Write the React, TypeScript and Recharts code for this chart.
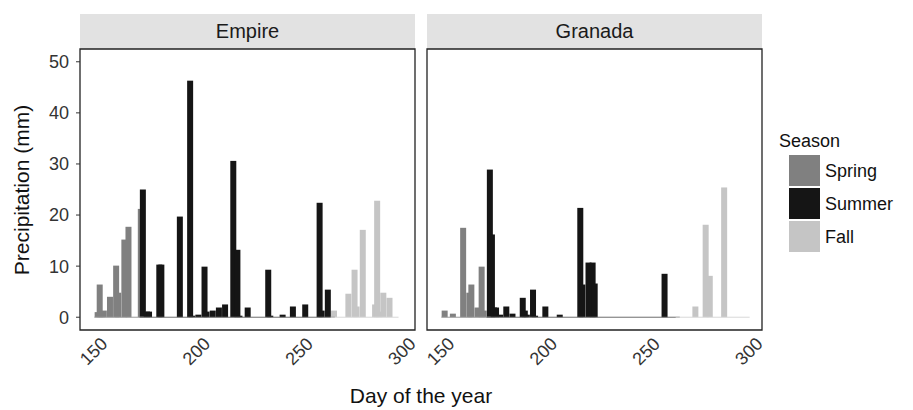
import React from "react";
import { ComposedChart, Bar, XAxis, YAxis, ReferenceArea, ReferenceLine } from "recharts";

const FONT = '"Liberation Sans", Arial, Helvetica, sans-serif';

const SEASON_FILL: Record<string, string> = { Spring: "#808080", Summer: "#151515", Fall: "#c5c5c5" };
const BASE_STROKE: Record<string, string> = { Spring: "#9a9a9a", Summer: "#6c6c6c", Fall: "#d8d8d8" };
const SEASONS = ["Spring", "Summer", "Fall"];

const X_TICKS = [150, 200, 250, 300];
const Y_TICKS = [0, 10, 20, 30, 40, 50];
const X_DOMAIN = [140.5, 303.5];
const Y_DOMAIN = [-2.5, 52.5];

// Empire
const empireSpringDays = [149, 150, 151, 152, 155, 158, 159, 162, 164, 170];
const empireSpringMm = [1.0, 6.4, 1.1, 1.3, 4.0, 10.1, 4.8, 15.2, 17.7, 21.2];
const empireSummerDays = [171, 173, 174, 179, 180, 189, 194, 195, 198, 201, 202, 205, 208, 211, 215, 217, 218, 222, 232, 233, 239, 244, 250, 257, 258, 261];
const empireSummerMm = [25.0, 1.1, 1.1, 10.3, 10.3, 19.7, 46.3, 0.3, 0.5, 9.9, 1.1, 1.3, 1.9, 2.5, 30.6, 13.2, 0.3, 1.9, 9.3, 0.3, 0.5, 2.1, 2.5, 22.4, 1.3, 5.4];
const empireFallDays = [264, 271, 274, 275, 278, 284, 285, 286, 288, 291];
const empireFallMm = [1.3, 4.6, 9.3, 2.1, 17.1, 2.5, 22.8, 1.1, 4.8, 3.8];
const empireSpans = [[149, 170], [171, 263], [264, 294]];

// Granada
const granadaSpringDays = [149, 153, 158, 161, 162, 165, 167, 168];
const granadaSpringMm = [1.3, 0.7, 17.5, 4.8, 6.4, 1.9, 9.9, 1.3];
const granadaSummerDays = [171, 172, 173, 174, 176, 179, 182, 187, 188, 189, 192, 193, 198, 205, 215, 216, 219, 221, 222, 256];
const granadaSummerMm = [28.9, 16.2, 1.9, 1.9, 0.5, 2.1, 0.7, 3.8, 1.3, 0.5, 5.4, 0.3, 2.1, 0.5, 21.4, 6.4, 10.7, 10.7, 6.6, 8.5];
const granadaFallDays = [271, 276, 278, 285];
const granadaFallMm = [2.1, 18.1, 8.1, 25.4];
const granadaSpans = [[149, 170], [171, 262], [263, 296]];

const buildRows = (days: number[][], mm: number[][]) =>
  SEASONS.flatMap((season, i) => days[i].map((day, j) => ({ day, mm: mm[i][j], season })));

const empireRows = buildRows([empireSpringDays, empireSummerDays, empireFallDays], [empireSpringMm, empireSummerMm, empireFallMm]);
const granadaRows = buildRows([granadaSpringDays, granadaSummerDays, granadaFallDays], [granadaSpringMm, granadaSummerMm, granadaFallMm]);

const BAR_PX = 6;

const BarShape = (props: any) => {
  const { x, y, width, height } = props;
  if (!height || height <= 0) return null;
  const season = props.payload?.season ?? props.season;
  const cx = x + width / 2;
  return <rect x={cx - BAR_PX / 2} y={y} width={BAR_PX} height={height} fill={SEASON_FILL[season]} />;
};

const RotTick = (props: any) => {
  const { x, y, payload } = props;
  return (
    <text x={x} y={y} dy="0.71em" textAnchor="end" transform={`rotate(-45 ${x} ${y})`} fontSize={18} fill="#333" fontFamily={FONT}>
      {payload.value}
    </text>
  );
};

function Panel({ rows, spans, showY, left, width, title }: { rows: any[]; spans: number[][]; showY: boolean; left: number; width: number; title: string }) {
  const plotLeft = showY ? left + 80 : left;
  return (
    <>
      <div
        style={{
          position: "absolute",
          left: plotLeft,
          top: 14,
          width: 335,
          height: 35,
          background: "#e2e2e2",
          display: "flex",
          alignItems: "center",
          justifyContent: "center",
          fontSize: 20,
          color: "#1a1a1a",
        }}
      >
        {title}
      </div>
      <div style={{ position: "absolute", left, top: 49 }}>
        <ComposedChart width={width} height={341} data={rows} margin={{ top: 0, right: 0, bottom: 0, left: 0 }}>
          <XAxis
            type="number"
            dataKey="day"
            domain={X_DOMAIN}
            ticks={X_TICKS}
            allowDataOverflow
            interval={0}
            axisLine={false}
            tickLine={false}
            tickSize={0}
            tickMargin={6}
            height={60}
            tick={<RotTick />}
          />
          <YAxis
            type="number"
            domain={Y_DOMAIN}
            ticks={Y_TICKS}
            allowDataOverflow
            interval={0}
            hide={!showY}
            width={80}
            axisLine={false}
            tickSize={4}
            tickMargin={7}
            tickLine={{ stroke: "#333" }}
            tick={{ fontSize: 18, fill: "#333", fontFamily: FONT }}
          />
          {spans.map((s, i) => (
            <ReferenceLine
              key={i}
              segment={[{ x: s[0] - 1.5, y: 0 }, { x: s[1] + 1.5, y: 0 }]}
              stroke={BASE_STROKE[SEASONS[i]]}
              strokeWidth={1}
              ifOverflow="visible"
            />
          ))}
          <Bar dataKey="mm" isAnimationActive={false} shape={BarShape} />
          <ReferenceArea
            x1={X_DOMAIN[0]}
            x2={X_DOMAIN[1]}
            y1={Y_DOMAIN[0]}
            y2={Y_DOMAIN[1]}
            fill="none"
            fillOpacity={0}
            stroke="#222"
            strokeWidth={1.3}
            ifOverflow="visible"
          />
        </ComposedChart>
      </div>
    </>
  );
}

export default function App() {
  return (
    <div style={{ position: "absolute", left: 0, top: 0, width: 913, height: 410, background: "#fff", fontFamily: FONT, overflow: "hidden" }}>
      <style>{`.recharts-surface { overflow: visible; }`}</style>
      <Panel rows={empireRows} spans={empireSpans} showY left={0} width={415} title="Empire" />
      <Panel rows={granadaRows} spans={granadaSpans} showY={false} left={427} width={335} title="Granada" />
      <div
        style={{
          position: "absolute",
          left: 22,
          top: 190,
          transform: "translate(-50%, -50%) rotate(-90deg)",
          whiteSpace: "nowrap",
          fontSize: 21,
          color: "#111",
        }}
      >
        Precipitation (mm)
      </div>
      <div style={{ position: "absolute", left: 421, top: 396, transform: "translate(-50%, -50%)", whiteSpace: "nowrap", fontSize: 21, color: "#111" }}>
        Day of the year
      </div>
      <div style={{ position: "absolute", left: 779, top: 141, transform: "translateY(-50%)", fontSize: 18, color: "#111" }}>Season</div>
      {SEASONS.map((s, i) => (
        <React.Fragment key={s}>
          <div style={{ position: "absolute", left: 789, top: 155 + i * 33, width: 31, height: 31, background: SEASON_FILL[s] }} />
          <div style={{ position: "absolute", left: 825, top: 171 + i * 33, transform: "translateY(-50%)", fontSize: 18, color: "#111" }}>{s}</div>
        </React.Fragment>
      ))}
    </div>
  );
}
